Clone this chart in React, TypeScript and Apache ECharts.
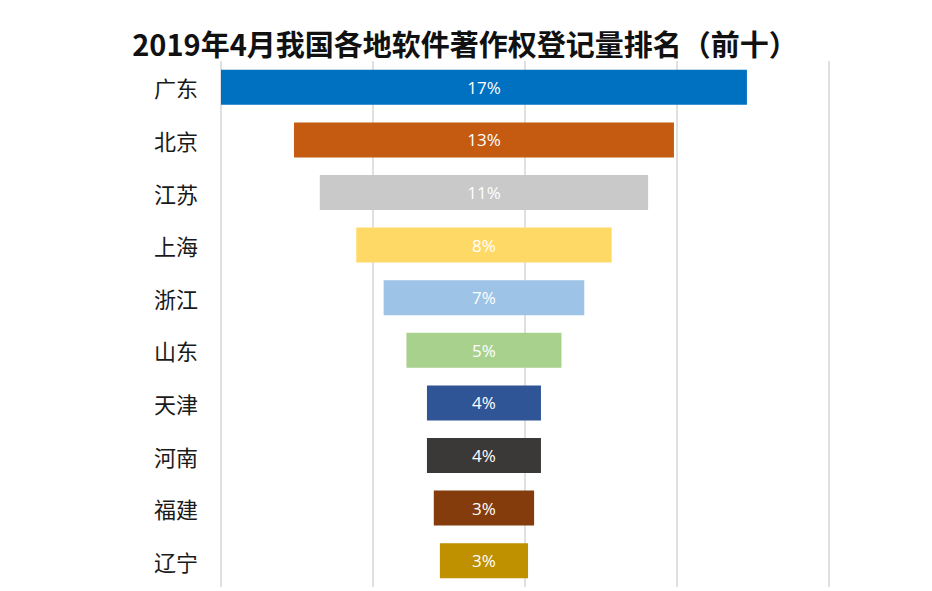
import React, { useEffect, useRef } from "react";
import * as echarts from "echarts";

const title = "2019年4月我国各地软件著作权登记量排名（前十）";
const provinces = ["广东", "北京", "江苏", "上海", "浙江", "山东", "天津", "河南", "福建", "辽宁"];
const shares = [17.3, 12.5, 10.8, 8.4, 6.6, 5.1, 3.75, 3.75, 3.3, 2.9];
const barColors = ["#0070C0", "#C55A11", "#C9C9C9", "#FFD966", "#9DC3E6", "#A9D18E", "#2F5597", "#3B3838", "#843C0C", "#BF9000"];
const axisTicks = [0, 5, 10, 15, 20];

export default function App() {
  const ref = useRef<HTMLDivElement>(null);
  useEffect(() => {
    document.body.style.margin = "0";
    const chart = echarts.init(ref.current!, null, { renderer: "svg" });
    const maxV = Math.max(...shares);
    const offsets = shares.map((v) => (maxV - v) / 2);
    chart.setOption({
      animation: false,
      backgroundColor: "#ffffff",
      title: {
        text: title,
        left: 460,
        textAlign: "center",
        top: 23,
        textStyle: {
          fontFamily: "Noto Sans CJK SC",
          fontWeight: "bold",
          fontSize: 29,
          color: "#111",
        },
      },
      grid: { left: 221, right: 103, top: 61, bottom: 4, containLabel: false },
      xAxis: {
        type: "value",
        min: axisTicks[0],
        max: axisTicks[axisTicks.length - 1],
        interval: axisTicks[1] - axisTicks[0],
        axisLabel: { show: false },
        axisLine: { show: false },
        axisTick: { show: false },
        splitLine: { show: true, lineStyle: { color: "#d6d6d6", width: 1.5 } },
      },
      yAxis: {
        type: "category",
        data: provinces,
        inverse: true,
        axisLine: { show: false },
        axisTick: { show: false },
        axisLabel: {
          fontSize: 22,
          color: "#1a1a1a",
          margin: 23,
          fontFamily: "Noto Sans CJK SC",
        },
      },
      series: [
        {
          type: "bar",
          stack: "funnel",
          silent: true,
          barWidth: 35,
          itemStyle: { color: "transparent" },
          data: offsets,
        },
        {
          type: "bar",
          stack: "funnel",
          barWidth: 35,
          data: shares.map((v, i) => ({ value: v, itemStyle: { color: barColors[i] } })),
          label: {
            show: true,
            position: "inside",
            color: "#ffffff",
            fontSize: 17,
            fontFamily: "Open Sans",
            formatter: (p: any) => Math.round(p.value) + "%",
          },
        },
      ],
    });
    return () => chart.dispose();
  }, []);
  return <div ref={ref} style={{ width: 932, height: 591 }} />;
}
